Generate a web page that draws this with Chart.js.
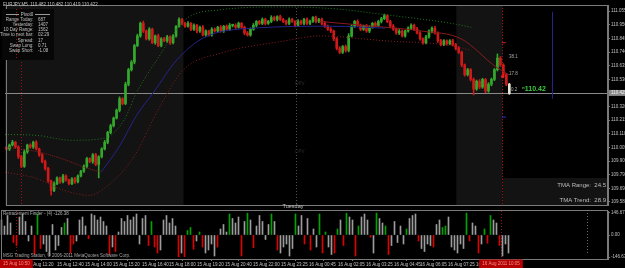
<!DOCTYPE html>
<html>
<head>
<meta charset="utf-8">
<script src="https://cdn.jsdelivr.net/npm/chart.js@4.4.1/dist/chart.umd.min.js"></script>
<style>
  html, body { margin:0; padding:0; background:#000; overflow:hidden; }
  #wrap { position:relative; width:625px; height:268px; background:#000; }
  canvas { position:absolute; left:0; }
  #main { top:0; }
  #sub { top:210px; }
</style>
</head>
<body>
<div id="wrap">
  <canvas id="main" width="625" height="210"></canvas>
  <canvas id="sub" width="625" height="58"></canvas>
</div>
<script>
// EURJPY M5 - velas, bandas TMA y "Retracement Finder" abajo
// valores leidos a ojo del grafico

const firstOpen = 110.000;
const closes = [
  109.993,110.023,110.045,110.008,109.933,109.859,109.971,110.023,110.008,110.045,
  109.993,109.948,109.896,109.844,109.747,109.673,109.725,109.770,109.740,109.785,
  109.755,109.725,109.762,109.740,109.785,109.822,109.859,109.919,109.896,109.948,
  109.874,109.933,109.993,110.045,110.120,110.172,110.231,110.291,110.380,110.343,
  110.492,110.604,110.663,110.790,110.864,110.961,110.902,110.842,110.916,110.812,
  110.864,110.790,110.842,110.827,110.857,110.812,110.864,110.939,110.991,110.961,
  110.939,110.961,110.916,110.946,110.902,110.931,110.872,110.902,110.872,110.916,
  110.902,110.931,110.902,110.939,110.916,110.946,110.946,110.931,110.961,110.931,
  110.887,110.872,110.916,110.946,110.976,110.961,110.991,110.961,110.976,111.006,
  110.991,111.013,110.991,110.976,110.961,110.991,110.976,110.946,110.976,110.961,
  110.991,110.961,110.976,111.006,110.976,110.991,110.961,110.939,110.916,110.902,
  110.842,110.768,110.738,110.782,110.753,110.864,110.939,110.976,110.946,110.916,
  110.939,110.902,110.931,110.961,110.946,110.976,110.998,111.021,110.976,110.939,
  110.916,110.887,110.902,110.864,110.902,110.924,110.946,110.916,110.887,110.842,
  110.812,110.857,110.902,110.924,110.887,110.827,110.797,110.827,110.805,110.827,
  110.797,110.768,110.738,110.641,110.566,110.604,110.529,110.455,110.514,110.470,
  110.529,110.440,110.492,110.529,110.604,110.693,110.641,110.566,110.492,110.422
];
// mechas en milesimas (0.001)
const wickUp = [
  10,8,14,6,9,12,15,7,10,8, 12,6,9,11,8,6,14,9,7,12, 9,6,10,12,8,7,11,9,6,10,
  12,8,10,14,9,12,8,10,15,9, 16,11,12,9,14,10,18,8,12,9, 7,14,9,11,12,8,10,6,13,9,
  11,14,7,12,8,10,14,9,7,12, 10,8,13,6,10,14,9,12,10,7, 9,12,10,14,7,9,12,10,8,14,
  11,7,12,9,10,12,8,7,14,10, 9,12,10,7,12,8,11,14,9,12, 7,10,14,9,12,18,10,8,12,10,
  9,14,10,7,12,9,10,12,7,9, 14,10,12,9,7,10,12,9,14,10, 7,12,9,10,14,9,12,10,7,9,
  12,10,14,9,7,10,9,12,10,14, 9,7,12,10,9,32,12,9,10,6
];
const wickDn = [
  9,12,7,10,14,10,8,12,9,11, 7,12,10,14,12,37,10,8,12,9, 11,10,8,12,9,7,10,12,9,14,
  10,104,9,8,12,10,9,7,12,10, 9,12,10,14,8,10,12,9,11,8, 12,9,10,8,12,14,9,10,7,12,
  10,8,12,9,14,10,8,12,9,10, 8,12,9,11,8,10,12,9,7,10, 14,9,10,8,12,9,10,12,8,9,
  10,12,8,9,12,10,8,12,9,10, 12,9,10,8,11,9,12,10,9,12, 14,12,10,9,14,12,9,10,8,12,
  9,10,12,8,10,9,12,8,10,12, 9,10,12,8,10,9,12,10,8,10, 12,9,10,14,9,12,10,8,12,9,
  10,12,9,14,12,10,12,45,10,12, 9,14,10,12,9,10,12,9,12,8
];

// bandas TMA: [indice de vela, precio]
const upperBand = [[-0.5,110.105],[10.5,110.097],[21.8,110.060],[32.8,110.075],[39.5,110.216],[43.8,110.432],
  [50.5,110.678],[60.5,110.998],[71.8,111.065],[93.8,111.088],[110.5,111.073],[127.2,111.028],[149.5,110.961],[156.2,110.931]];
const lowerBand = [[-0.5,109.814],[9.5,109.770],[19.5,109.673],[27.8,109.636],[32.8,109.688],[42.8,109.933],
  [51.2,110.306],[59.5,110.604],[71.8,110.730],[93.8,110.827],[105.2,110.864],[127.2,110.827],[149.5,110.790],[156.2,110.753]];
const centerDown1 = [[-0.5,110.008],[10.5,109.971],[19.5,109.911],[27.2,109.844],[31.8,109.814]];
const centerUp = [[31.8,109.814],[37.8,110.008],[43.8,110.254],[49.5,110.432],[57.2,110.678],[66.2,110.849],
  [82.8,110.924],[109.5,110.939],[127.2,110.924]];
const centerDown2 = [[105.2,110.976],[127.2,110.931],[139.5,110.902],[152.8,110.842],[164.5,110.626],[168.8,110.566]];

// Retracement Finder
const histValues = [
  100,60,130,80,-50,-70,120,140,90,-40, 60,-130,140,-90,-60,-110,-140,70,-100,-70,
  50,80,110,-120,-60,-40,100,120,60,-25, 140,130,100,120,90,60,-130,-80,-110,20,
  110,90,130,100,120,140,-60,110,130,-70, 90,-80,-120,-100,100,130,80,110,60,-145,
  -120,-145,30,50,-95,-40,20,-80,-120,-100, -60,-140,-80,40,70,20,140,110,80,120,
  -140,90,145,100,-85,60,130,90,-30,70, 140,90,-100,-120,-80,-60,-140,-90,140,60,
  130,-60,110,-100,40,-80,140,-120,20,-80, -130,-120,40,100,-70,145,120,100,-140,60,
  120,140,100,-15,-120,146,110,80,60,-130, -70,90,-50,60,-60,40,110,130,140,-40,
  -90,-110,-60,-70,-80,70,100,50,60,120, -80,-100,-120,-60,-90,146,-40,80,60,-120,
  -60,40,-55,130,100,80,-70,-140,-60,-120
];
// g = verde, r = rojo, . = gris
const histKinds =
  "....rr...." + ".rgr......" + ".g.rr....r" + "......r.r." + ".........r" +
  "grr......r" + ".rggr.gr.." + "..r...g..." + "r.g.r....." + "g.r.....g." +
  ".r.r..grg." + ".rg.rg..rg" + "...r.g..gr" + ".....g...r" + "....r..gg." +
  ".....gr..r" + ".grg..r...";

const priceTicks = [109.585,109.690,109.795,109.900,110.005,110.110,110.215,110.320,110.425,
  110.530,110.635,110.740,110.845,110.950,111.055];
const oscTicks = [-146.67, 0, 146.67];
const timeTickIdx = [8.5,18.5,27.8,37.2,46.8,55.8,65.2,74.5,83.8,93.2,102.5,112.2,121.5,130.8,139.5,148.8,158.2];
const timeLabels = ['15 Aug 11:20','15 Aug 12:40','15 Aug 14:00','15 Aug 15:20','15 Aug 16:40','15 Aug 18:00',
  '15 Aug 19:20','15 Aug 20:40','15 Aug 22:00','15 Aug 23:25','16 Aug 00:45','16 Aug 02:05','16 Aug 03:25',
  '16 Aug 04:45','16 Aug 06:05','16 Aug 07:25','16 Aug 08:45'];

const lastPrice = 110.425;
const sessionShade = [[-0.5,59.5],[151.2,166.8]];
const redVLines = [4.8, 166.5];
const daySep = 97.2;

const FONT = "'Liberation Sans', Arial, sans-serif";
const GREY = '#7a7a7a';
const X_MIN = -0.5, X_MAX = 202.17;

/* ---------- armar velas ---------- */
const opens = closes.map((c,i)=> i ? closes[i-1] : firstOpen);
const candleColors = closes.map((c,i)=>{
  if(i === closes.length-1) return '#e6e6d6';
  return c >= opens[i] ? '#34a82c' : '#d01a1a';
});
const bodies = closes.map((c,i)=>({x:i, y:[opens[i], c]}));
const wicks = closes.map((c,i)=>({x:i, y:[Math.min(opens[i],c)-wickDn[i]/1000, Math.max(opens[i],c)+wickUp[i]/1000]}));
const pts = arr => arr.map(([x,y])=>({x,y}));

function lineDs(arr, color, dash){
  return { type:'line', data:pts(arr), borderColor:color, borderWidth:1, borderDash:dash||[],
    pointRadius:0, tension:0.4, cubicInterpolationMode:'monotone', order:0 };
}

function txt(ctx, s, x, y, size, color, align, bold){
  ctx.font = (bold?'bold ':'') + size + 'px ' + FONT;
  ctx.fillStyle = color; ctx.textAlign = align||'left'; ctx.textBaseline = 'middle';
  ctx.fillText(s, x, y);
}

function vDotted(ctx, x, top, bottom, color){
  ctx.save(); ctx.strokeStyle = color; ctx.lineWidth = 1; ctx.setLineDash([1,2]);
  ctx.beginPath(); ctx.moveTo(Math.round(x)+0.5, top); ctx.lineTo(Math.round(x)+0.5, bottom); ctx.stroke();
  ctx.restore();
}

const mainDecor = {
  id:'mainDecor',
  beforeDatasetsDraw(chart){
    const {ctx, chartArea:a, scales:{x,y}} = chart;
    ctx.save();
    ctx.fillStyle = '#131313';
    sessionShade.forEach(([s,e])=>{
      const x0 = Math.max(a.left, x.getPixelForValue(s)), x1 = x.getPixelForValue(e);
      ctx.fillRect(x0, a.top, x1-x0, a.bottom-a.top);
    });
    ctx.fillRect(x.getPixelForValue(166.8), 178, a.right - x.getPixelForValue(166.8), a.bottom-178);
    // linea de precio actual
    const py = Math.round(y.getPixelForValue(lastPrice))+0.5;
    ctx.strokeStyle = '#8a8a8a'; ctx.lineWidth = 1;
    ctx.beginPath(); ctx.moveTo(a.left, py); ctx.lineTo(a.right, py); ctx.stroke();
    vDotted(ctx, x.getPixelForValue(daySep), a.top, a.bottom, '#505050');
    redVLines.forEach(v=>vDotted(ctx, x.getPixelForValue(v), a.top, a.bottom, '#a01010'));
    // linea vertical azul
    ctx.strokeStyle = '#23238a';
    const bx = Math.round(x.getPixelForValue(183.2))+0.5;
    ctx.beginPath(); ctx.moveTo(bx, y.getPixelForValue(111.05)); ctx.lineTo(bx, y.getPixelForValue(110.38)); ctx.stroke();
    // textos tenues
    txt(ctx, 'DPV', 300, 84, 4.5, '#2c2c2c', 'center');
    txt(ctx, 'DPV', 300, 152, 4.5, '#2c2c2c', 'center');
    ctx.restore();
  },
  afterDraw(chart){
    const {ctx, chartArea:a, scales:{y}} = chart;
    ctx.save();
    ctx.strokeStyle = GREY; ctx.lineWidth = 1;
    ctx.strokeRect(a.left+1.5, a.top+0.5, a.right-a.left-2, a.bottom-a.top);
    // titulo
    txt(ctx, 'EURJPY,M5  110.482 110.482 110.419 110.422', 3, 5, 4.5, '#c8c8c8');
    // cuadro de info
    ctx.fillStyle = '#070707'; ctx.fillRect(2, 9, 52, 51);
    vDotted(ctx, 16, 9, 60, '#a01010');
    ctx.strokeStyle = '#9a9a9a';
    ctx.beginPath(); ctx.moveTo(6,14.5); ctx.lineTo(19,14.5); ctx.moveTo(35,14.5); ctx.lineTo(50,14.5); ctx.stroke();
    txt(ctx, 'Pivot0', 27, 14.5, 4.5, '#c8c8c8', 'center');
    const rows = [['Range Today:','687'],['Yesterday:','1407'],['10 Day Range:','1562'],['Time to next bar:','02:29'],
      ['Spread:','17'],['Swap Long:','0.71'],['Swap Short:','-1.08']];
    rows.forEach((r,k)=>{
      const yy = 19.5 + k*5.2;
      txt(ctx, r[0], 33.5, yy, 4.5, '#c0c0c0', 'right');
      txt(ctx, r[1], 38, yy, 4.5, '#c0c0c0', 'left');
    });
    // textos a la derecha
    txt(ctx, 'TMA Range:  24.5', 606, 185, 6, '#bdbdbd', 'right');
    txt(ctx, 'TMA Trend:  28.9', 606, 200, 6, '#bdbdbd', 'right');
    txt(ctx, 'Tuesday', 293, 206, 5.5, '#c0c0c0', 'center');
    txt(ctx, '\u207F110.42', 522, 89.5, 7, '#3ccc3c', 'left', true);
    txt(ctx, '38.1', 509, 57, 4.5, '#a8a8a8');
    txt(ctx, '17.8', 509, 74, 4.5, '#a8a8a8');
    txt(ctx, '0.2', 511, 90, 4.5, '#a8a8a8');
    // caja del precio actual en el eje
    const py = y.getPixelForValue(lastPrice);
    ctx.fillStyle = '#8a8a8a'; ctx.fillRect(a.right+1, py-3, 16, 6);
    txt(ctx, lastPrice.toFixed(3), a.right+3, py, 4.5, '#f0f0f0');
    ctx.restore();
  }
};

new Chart(document.getElementById('main'), {
  data: {
    datasets: [
      lineDs(upperBand, '#1f7a1f', [1,2]),
      lineDs(lowerBand, '#8a1c1c', [1,2]),
      lineDs(centerDown1, '#8a1c1c', [1,1]),
      lineDs(centerUp, '#24248a'),
      lineDs(centerDown2, '#8a1c1c'),
      { type:'bar', data:wicks, backgroundColor:candleColors, barThickness:1, grouped:false, order:2 },
      { type:'bar', data:bodies, backgroundColor:candleColors, barThickness:2, minBarLength:1, grouped:false, order:1 },
      { type:'scatter', data:[{x:166.8,y:110.552}], pointRadius:1.8, pointBackgroundColor:'#e02020', pointBorderWidth:0, order:0 },
      { type:'scatter', data:[{x:167.2,y:110.812}], pointStyle:'line', pointRadius:2, borderColor:'#d02020', borderWidth:1, order:0 },
      { type:'scatter', data:[{x:167.2,y:110.239}], pointStyle:'line', pointRadius:2, borderColor:'#3030c0', borderWidth:1, order:0 }
    ]
  },
  options: {
    responsive:false, animation:false, devicePixelRatio:1,
    layout:{ padding:{ top:3, bottom:0, left:0, right:0 } },
    plugins:{ legend:{display:false}, tooltip:{enabled:false} },
    scales:{
      x:{ type:'linear', min:X_MIN, max:X_MAX, offset:false, display:false },
      y:{ position:'right', min:109.5611, max:111.1027,
        afterFit(s){ s.width = 17; s.paddingTop = 0; s.paddingBottom = 0; },
        afterBuildTicks(s){ s.ticks = priceTicks.map(v=>({value:v})); },
        ticks:{ color:'#c0c0c0', font:{family:FONT, size:4.5}, padding:1, autoSkip:false, callback:v=>v.toFixed(3) },
        grid:{ drawOnChartArea:false, tickLength:2, color:GREY },
        border:{ color:GREY }
      }
    }
  },
  plugins:[mainDecor]
});

/* ---------- panel inferior ---------- */
const histColors = histKinds.split('').map(k=> k==='g' ? '#00a400' : k==='r' ? '#e00000' : '#9c9c9c');

const subDecor = {
  id:'subDecor',
  beforeDatasetsDraw(chart){
    const {ctx, chartArea:a, scales:{x}} = chart;
    redVLines.forEach(v=>vDotted(ctx, x.getPixelForValue(v), a.top, a.bottom, '#a01010'));
    vDotted(ctx, x.getPixelForValue(195.2), a.top+2, a.bottom-4, '#6a6a6a');
  },
  afterDraw(chart){
    const {ctx, chartArea:a, scales:{x}} = chart;
    ctx.save();
    ctx.strokeStyle = GREY; ctx.lineWidth = 1;
    ctx.strokeRect(a.left+1.5, a.top-0.5, a.right-a.left-2, a.bottom-a.top+1);
    txt(ctx, 'Retracement Finder - (4) -126.38', 3, 3.5, 4.5, '#b0b0b0');
    txt(ctx, 'MSG Trading Station, \u00A9 2006-2011 MetaQuotes Software Corp.', 3, 45.5, 4.5, '#a8a8a8');
    // etiquetas de las lineas verticales en el eje de tiempo
    const boxes = [[redVLines[0], '15 Aug 10:50'], [redVLines[1], '16 Aug 2011 10:05']];
    boxes.forEach(([v,s])=>{
      const cx = x.getPixelForValue(v);
      ctx.font = '4.5px ' + FONT;
      const w = ctx.measureText(s).width + 6;
      const x0 = Math.max(0, cx - w/2);
      ctx.fillStyle = '#b40000'; ctx.fillRect(x0, a.bottom+0.5, w, 9);
      txt(ctx, s, x0 + w/2, a.bottom+4.5, 4.5, '#f09090', 'center');
    });
    ctx.restore();
  }
};

new Chart(document.getElementById('sub'), {
  data: {
    datasets: [
      { type:'bar', data:histValues.map((v,i)=>({x:i, y:v})), backgroundColor:histColors, barThickness:1 }
    ]
  },
  options: {
    responsive:false, animation:false, devicePixelRatio:1,
    layout:{ padding:{ top:1, bottom:0, left:0, right:0 } },
    plugins:{ legend:{display:false}, tooltip:{enabled:false} },
    scales:{
      x:{ type:'linear', min:X_MIN, max:X_MAX, offset:false, position:'bottom',
        afterFit(s){ s.height = 9; s.paddingLeft = 0; s.paddingRight = 0; },
        afterBuildTicks(s){ s.ticks = timeTickIdx.map(v=>({value:v})); },
        ticks:{ color:'#c0c0c0', font:{family:FONT, size:4.5}, padding:1, align:'start', autoSkip:false,
          maxRotation:0, minRotation:0, callback:(v,i)=>timeLabels[i] },
        grid:{ drawOnChartArea:false, tickLength:2, color:GREY },
        border:{ display:false }
      },
      y:{ position:'right', min:-160, max:160,
        afterFit(s){ s.width = 17; s.paddingTop = 0; s.paddingBottom = 0; },
        afterBuildTicks(s){ s.ticks = oscTicks.map(v=>({value:v})); },
        ticks:{ color:'#c0c0c0', font:{family:FONT, size:4.5}, padding:1, autoSkip:false, callback:v=>v.toFixed(2) },
        grid:{ drawOnChartArea:false, tickLength:2, color:GREY },
        border:{ color:GREY }
      }
    }
  },
  plugins:[subDecor]
});
</script>
</body>
</html>
